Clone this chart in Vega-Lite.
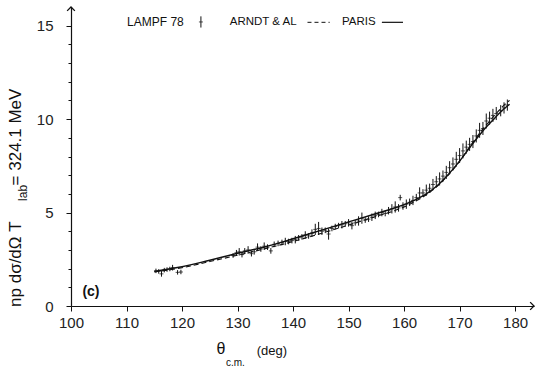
{
  "$schema": "https://vega.github.io/schema/vega-lite/v6.json",
  "width": 463,
  "height": 299,
  "autosize": {"type": "none"},
  "padding": {"left": 71, "top": 7, "right": 5, "bottom": 61},
  "background": "white",
  "data": {"values": [{}]},
  "resolve": {"axis": {"y": "independent"}},
  "config": {
    "view": {"stroke": null},
    "font": "Liberation Sans",
    "axis": {
      "grid": false,
      "domainColor": "#111",
      "domainWidth": 1.2,
      "tickColor": "#111",
      "labelColor": "#222",
      "labelFont": "Liberation Sans",
      "labelFontSize": 15,
      "labelOverlap": false,
      "title": null
    }
  },
  "datasets": {
    "lampf": [
      {"t": 115.3, "v": 1.88, "lo": 1.76, "hi": 2.0},
      {"t": 115.8, "v": 1.85, "lo": 1.73, "hi": 1.97},
      {"t": 116.3, "v": 1.72, "lo": 1.57, "hi": 1.87},
      {"t": 116.8, "v": 1.92, "lo": 1.8, "hi": 2.04},
      {"t": 117.3, "v": 1.95, "lo": 1.83, "hi": 2.07},
      {"t": 117.8, "v": 1.98, "lo": 1.86, "hi": 2.1},
      {"t": 118.3, "v": 2.05, "lo": 1.9, "hi": 2.2},
      {"t": 119.2, "v": 1.8, "lo": 1.68, "hi": 1.92},
      {"t": 119.8, "v": 1.82, "lo": 1.7, "hi": 1.94},
      {"t": 129.2, "v": 2.7, "lo": 2.58, "hi": 2.82},
      {"t": 129.8, "v": 2.85, "lo": 2.7, "hi": 3.0},
      {"t": 130.3, "v": 2.9, "lo": 2.7, "hi": 3.1},
      {"t": 130.8, "v": 2.75, "lo": 2.6, "hi": 2.9},
      {"t": 131.3, "v": 2.95, "lo": 2.8, "hi": 3.1},
      {"t": 131.9, "v": 3.0, "lo": 2.8, "hi": 3.2},
      {"t": 132.5, "v": 2.8, "lo": 2.65, "hi": 2.95},
      {"t": 133.0, "v": 2.9, "lo": 2.75, "hi": 3.05},
      {"t": 133.6, "v": 3.15, "lo": 2.95, "hi": 3.35},
      {"t": 134.2, "v": 3.05, "lo": 2.9, "hi": 3.2},
      {"t": 134.8, "v": 3.2, "lo": 3.0, "hi": 3.4},
      {"t": 135.4, "v": 3.15, "lo": 3.0, "hi": 3.3},
      {"t": 136.0, "v": 2.95, "lo": 2.8, "hi": 3.1},
      {"t": 136.6, "v": 3.3, "lo": 3.15, "hi": 3.45},
      {"t": 137.3, "v": 3.35, "lo": 3.2, "hi": 3.5},
      {"t": 138.0, "v": 3.4, "lo": 3.25, "hi": 3.55},
      {"t": 138.6, "v": 3.45, "lo": 3.25, "hi": 3.65},
      {"t": 139.2, "v": 3.45, "lo": 3.3, "hi": 3.6},
      {"t": 139.8, "v": 3.5, "lo": 3.35, "hi": 3.65},
      {"t": 140.4, "v": 3.55, "lo": 3.35, "hi": 3.75},
      {"t": 141.0, "v": 3.65, "lo": 3.5, "hi": 3.8},
      {"t": 141.6, "v": 3.7, "lo": 3.55, "hi": 3.85},
      {"t": 142.2, "v": 3.8, "lo": 3.6, "hi": 4.0},
      {"t": 142.8, "v": 3.75, "lo": 3.6, "hi": 3.9},
      {"t": 143.4, "v": 3.9, "lo": 3.7, "hi": 4.1},
      {"t": 144.0, "v": 4.1, "lo": 3.8, "hi": 4.4},
      {"t": 144.6, "v": 4.15, "lo": 3.8, "hi": 4.5},
      {"t": 145.2, "v": 4.0, "lo": 3.8, "hi": 4.2},
      {"t": 145.8, "v": 4.05, "lo": 3.9, "hi": 4.2},
      {"t": 146.4, "v": 3.85, "lo": 3.55, "hi": 4.15},
      {"t": 147.0, "v": 4.15, "lo": 4.0, "hi": 4.3},
      {"t": 147.6, "v": 4.25, "lo": 4.1, "hi": 4.4},
      {"t": 148.2, "v": 4.3, "lo": 4.15, "hi": 4.45},
      {"t": 148.8, "v": 4.35, "lo": 4.15, "hi": 4.55},
      {"t": 149.4, "v": 4.4, "lo": 4.25, "hi": 4.55},
      {"t": 150.0, "v": 4.45, "lo": 4.25, "hi": 4.65},
      {"t": 150.6, "v": 4.3, "lo": 4.1, "hi": 4.5},
      {"t": 151.2, "v": 4.45, "lo": 4.3, "hi": 4.6},
      {"t": 151.8, "v": 4.55, "lo": 4.3, "hi": 4.8},
      {"t": 152.4, "v": 4.7, "lo": 4.4, "hi": 5.0},
      {"t": 153.0, "v": 4.6, "lo": 4.45, "hi": 4.75},
      {"t": 153.6, "v": 4.65, "lo": 4.5, "hi": 4.8},
      {"t": 154.2, "v": 4.75, "lo": 4.55, "hi": 4.95},
      {"t": 154.8, "v": 4.85, "lo": 4.65, "hi": 5.05},
      {"t": 155.4, "v": 4.9, "lo": 4.75, "hi": 5.05},
      {"t": 156.0, "v": 5.0, "lo": 4.8, "hi": 5.2},
      {"t": 156.6, "v": 4.95, "lo": 4.8, "hi": 5.1},
      {"t": 157.2, "v": 5.1, "lo": 4.9, "hi": 5.3},
      {"t": 157.8, "v": 5.2, "lo": 4.95, "hi": 5.45},
      {"t": 158.4, "v": 5.3, "lo": 5.0, "hi": 5.6},
      {"t": 159.0, "v": 5.25, "lo": 5.05, "hi": 5.45},
      {"t": 159.3, "v": 5.8, "lo": 5.65, "hi": 5.95},
      {"t": 159.8, "v": 5.35, "lo": 5.15, "hi": 5.55},
      {"t": 160.4, "v": 5.45, "lo": 5.2, "hi": 5.7},
      {"t": 161.0, "v": 5.55, "lo": 5.35, "hi": 5.75},
      {"t": 161.6, "v": 5.65, "lo": 5.4, "hi": 5.9},
      {"t": 162.2, "v": 5.8, "lo": 5.6, "hi": 6.0},
      {"t": 162.8, "v": 6.05, "lo": 5.75, "hi": 6.35},
      {"t": 163.4, "v": 6.05, "lo": 5.85, "hi": 6.25},
      {"t": 164.0, "v": 6.2, "lo": 5.9, "hi": 6.5},
      {"t": 164.6, "v": 6.3, "lo": 6.05, "hi": 6.55},
      {"t": 165.2, "v": 6.5, "lo": 6.2, "hi": 6.8},
      {"t": 165.8, "v": 6.65, "lo": 6.35, "hi": 6.95},
      {"t": 166.4, "v": 6.8, "lo": 6.45, "hi": 7.15},
      {"t": 167.0, "v": 6.95, "lo": 6.65, "hi": 7.25},
      {"t": 167.6, "v": 7.15, "lo": 6.8, "hi": 7.5},
      {"t": 168.2, "v": 7.4, "lo": 7.05, "hi": 7.75},
      {"t": 168.8, "v": 7.6, "lo": 7.25, "hi": 7.95},
      {"t": 169.4, "v": 7.85, "lo": 7.45, "hi": 8.25},
      {"t": 170.0, "v": 8.05, "lo": 7.65, "hi": 8.45},
      {"t": 170.6, "v": 8.3, "lo": 7.9, "hi": 8.7},
      {"t": 171.2, "v": 8.5, "lo": 8.15, "hi": 8.85},
      {"t": 171.8, "v": 8.65, "lo": 8.3, "hi": 9.0},
      {"t": 172.4, "v": 8.8, "lo": 8.45, "hi": 9.15},
      {"t": 173.0, "v": 9.1, "lo": 8.75, "hi": 9.45},
      {"t": 173.6, "v": 9.4, "lo": 9.0, "hi": 9.8},
      {"t": 174.2, "v": 9.5, "lo": 9.15, "hi": 9.85},
      {"t": 174.8, "v": 9.9, "lo": 9.5, "hi": 10.3},
      {"t": 175.4, "v": 10.05, "lo": 9.7, "hi": 10.4},
      {"t": 176.0, "v": 10.2, "lo": 9.85, "hi": 10.55},
      {"t": 176.6, "v": 10.3, "lo": 9.95, "hi": 10.65},
      {"t": 177.4, "v": 10.45, "lo": 10.15, "hi": 10.75},
      {"t": 178.0, "v": 10.6, "lo": 10.3, "hi": 10.9},
      {"t": 178.6, "v": 10.75, "lo": 10.45, "hi": 11.05}
    ],
    "curves": [
      {"t": 115, "v": 1.85, "model": "PARIS"},
      {"t": 118, "v": 2.0, "model": "PARIS"},
      {"t": 120, "v": 2.1, "model": "PARIS"},
      {"t": 125, "v": 2.45, "model": "PARIS"},
      {"t": 130, "v": 2.82, "model": "PARIS"},
      {"t": 135, "v": 3.17, "model": "PARIS"},
      {"t": 140, "v": 3.6, "model": "PARIS"},
      {"t": 145, "v": 4.05, "model": "PARIS"},
      {"t": 150, "v": 4.5, "model": "PARIS"},
      {"t": 155, "v": 4.95, "model": "PARIS"},
      {"t": 160, "v": 5.42, "model": "PARIS"},
      {"t": 162, "v": 5.68, "model": "PARIS"},
      {"t": 164, "v": 6.0, "model": "PARIS"},
      {"t": 166, "v": 6.45, "model": "PARIS"},
      {"t": 168, "v": 7.05, "model": "PARIS"},
      {"t": 170, "v": 7.75, "model": "PARIS"},
      {"t": 172, "v": 8.55, "model": "PARIS"},
      {"t": 174, "v": 9.3, "model": "PARIS"},
      {"t": 176, "v": 9.95, "model": "PARIS"},
      {"t": 178, "v": 10.55, "model": "PARIS"},
      {"t": 179, "v": 10.8, "model": "PARIS"},
      {"t": 115, "v": 1.82, "model": "ARNDT"},
      {"t": 120, "v": 2.05, "model": "ARNDT"},
      {"t": 125, "v": 2.38, "model": "ARNDT"},
      {"t": 130, "v": 2.72, "model": "ARNDT"},
      {"t": 135, "v": 3.07, "model": "ARNDT"},
      {"t": 140, "v": 3.45, "model": "ARNDT"},
      {"t": 145, "v": 3.88, "model": "ARNDT"},
      {"t": 150, "v": 4.33, "model": "ARNDT"},
      {"t": 155, "v": 4.8, "model": "ARNDT"},
      {"t": 160, "v": 5.3, "model": "ARNDT"},
      {"t": 162, "v": 5.6, "model": "ARNDT"},
      {"t": 164, "v": 5.95, "model": "ARNDT"},
      {"t": 166, "v": 6.42, "model": "ARNDT"},
      {"t": 168, "v": 7.02, "model": "ARNDT"},
      {"t": 170, "v": 7.75, "model": "ARNDT"},
      {"t": 172, "v": 8.6, "model": "ARNDT"},
      {"t": 174, "v": 9.4, "model": "ARNDT"},
      {"t": 176, "v": 10.1, "model": "ARNDT"},
      {"t": 178, "v": 10.75, "model": "ARNDT"},
      {"t": 179, "v": 11.0, "model": "ARNDT"}
    ]
  },
  "layer": [
    {
      "data": {"name": "curves"},
      "transform": [{"filter": "datum.model === 'PARIS'"}],
      "mark": {"type": "line", "color": "#111", "strokeWidth": 1.4, "interpolate": "monotone"},
      "encoding": {
        "x": {
          "field": "t", "type": "quantitative",
          "scale": {"domain": [100, 183.4], "nice": false, "zero": false},
          "axis": {
            "values": [100, 105, 110, 115, 120, 125, 130, 135, 140, 145, 150, 155, 160, 165, 170, 175, 180],
            "labelExpr": "datum.value % 10 === 0 ? datum.label : ''",
            "tickSize": {"condition": {"test": "datum.value % 10 === 0", "value": 5}, "value": 3},
            "labelPadding": 4,
            "labelOverlap": false,
            "labelFlush": false
          }
        },
        "y": {
          "field": "v", "type": "quantitative",
          "scale": {"domain": [0, 16], "nice": false},
          "axis": {
            "orient": "left",
            "values": [0, 5, 10, 15],
            "tickSize": 5,
            "labelOverlap": false,
            "labelPadding": 13
          }
        }
      }
    },
    {
      "data": {"name": "curves"},
      "transform": [{"filter": "datum.model === 'ARNDT'"}],
      "mark": {"type": "line", "color": "#111", "strokeWidth": 1.1, "strokeDash": [5, 3], "interpolate": "monotone"},
      "encoding": {
        "x": {"field": "t", "type": "quantitative"},
        "y": {
          "field": "v", "type": "quantitative",
          "axis": {
            "orient": "left",
            "values": [1, 2, 3, 4, 6, 7, 8, 9, 11, 12, 13, 14],
            "labels": false,
            "domain": false,
            "tickSize": 3
          }
        }
      }
    },
    {
      "data": {"name": "lampf"},
      "mark": {"type": "rule", "color": "#111", "strokeWidth": 1},
      "encoding": {
        "x": {"field": "t", "type": "quantitative"},
        "y": {"field": "lo", "type": "quantitative", "axis": null},
        "y2": {"field": "hi"}
      }
    },
    {
      "data": {"name": "lampf"},
      "mark": {"type": "tick", "orient": "horizontal", "color": "#111", "size": 4, "thickness": 1},
      "encoding": {
        "x": {"field": "t", "type": "quantitative"},
        "y": {"field": "v", "type": "quantitative", "axis": null}
      }
    },
    {
      "mark": {"type": "point", "shape": "M -1 1 L 0 0 L 1 1", "filled": false, "stroke": "#111", "strokeWidth": 1.3, "size": 60, "opacity": 1},
      "encoding": {"x": {"datum": 100}, "y": {"datum": 16, "axis": null}}
    },
    {
      "mark": {"type": "point", "shape": "M -1 -1 L 0 0 L -1 1", "filled": false, "stroke": "#111", "strokeWidth": 1.3, "size": 60, "opacity": 1},
      "encoding": {"x": {"datum": 183.4}, "y": {"datum": 0, "axis": null}}
    },
    {
      "mark": {"type": "text", "text": "LAMPF 78", "fontSize": 12, "align": "left", "baseline": "middle", "color": "#111"},
      "encoding": {"x": {"datum": 110.1}, "y": {"datum": 15.18, "axis": null}}
    },
    {
      "mark": {"type": "rule", "color": "#111", "strokeWidth": 1},
      "encoding": {"x": {"datum": 123.4}, "y": {"datum": 14.9, "axis": null}, "y2": {"datum": 15.5}}
    },
    {
      "mark": {"type": "tick", "orient": "horizontal", "color": "#111", "size": 4, "thickness": 1},
      "encoding": {"x": {"datum": 123.4}, "y": {"datum": 15.2, "axis": null}}
    },
    {
      "mark": {"type": "text", "text": "ARNDT & AL", "fontSize": 11.5, "align": "left", "baseline": "middle", "color": "#111"},
      "encoding": {"x": {"datum": 128.6}, "y": {"datum": 15.18, "axis": null}}
    },
    {
      "mark": {"type": "rule", "color": "#111", "strokeWidth": 1, "strokeDash": [4, 3]},
      "encoding": {"x": {"datum": 142.6}, "x2": {"datum": 146.6}, "y": {"datum": 15.18, "axis": null}}
    },
    {
      "mark": {"type": "text", "text": "PARIS", "fontSize": 11.5, "align": "left", "baseline": "middle", "color": "#111"},
      "encoding": {"x": {"datum": 148.8}, "y": {"datum": 15.18, "axis": null}}
    },
    {
      "mark": {"type": "rule", "color": "#111", "strokeWidth": 1.2},
      "encoding": {"x": {"datum": 156.0}, "x2": {"datum": 159.8}, "y": {"datum": 15.18, "axis": null}}
    },
    {
      "mark": {"type": "text", "text": "(c)", "fontSize": 14, "fontWeight": "bold", "align": "center", "baseline": "middle", "color": "#111"},
      "encoding": {"x": {"datum": 103.6}, "y": {"datum": 0.75, "axis": null}}
    },
    {
      "mark": {"type": "text", "text": "θ", "fontSize": 16, "align": "center", "baseline": "middle", "color": "#111"},
      "encoding": {"x": {"datum": 127.0}, "y": {"datum": -2.3, "axis": null}}
    },
    {
      "mark": {"type": "text", "text": "c.m.", "fontSize": 10, "align": "left", "baseline": "middle", "color": "#111"},
      "encoding": {"x": {"datum": 127.9}, "y": {"datum": -3.05, "axis": null}}
    },
    {
      "mark": {"type": "text", "text": "(deg)", "fontSize": 13, "align": "center", "baseline": "middle", "color": "#111"},
      "encoding": {"x": {"datum": 136.2}, "y": {"datum": -2.4, "axis": null}}
    },
    {
      "mark": {"type": "text", "text": "np  dσ/dΩ   T", "fontSize": 17, "angle": 270, "align": "left", "baseline": "middle", "color": "#111"},
      "encoding": {"x": {"datum": 90.1}, "y": {"datum": -0.05, "axis": null}}
    },
    {
      "mark": {"type": "text", "text": "lab", "fontSize": 12, "angle": 270, "align": "center", "baseline": "middle", "color": "#111"},
      "encoding": {"x": {"datum": 91.4}, "y": {"datum": 6.05, "axis": null}}
    },
    {
      "mark": {"type": "text", "text": "=  324.1  MeV", "fontSize": 17, "angle": 270, "align": "left", "baseline": "middle", "color": "#111"},
      "encoding": {"x": {"datum": 90.1}, "y": {"datum": 6.45, "axis": null}}
    }
  ]
}
